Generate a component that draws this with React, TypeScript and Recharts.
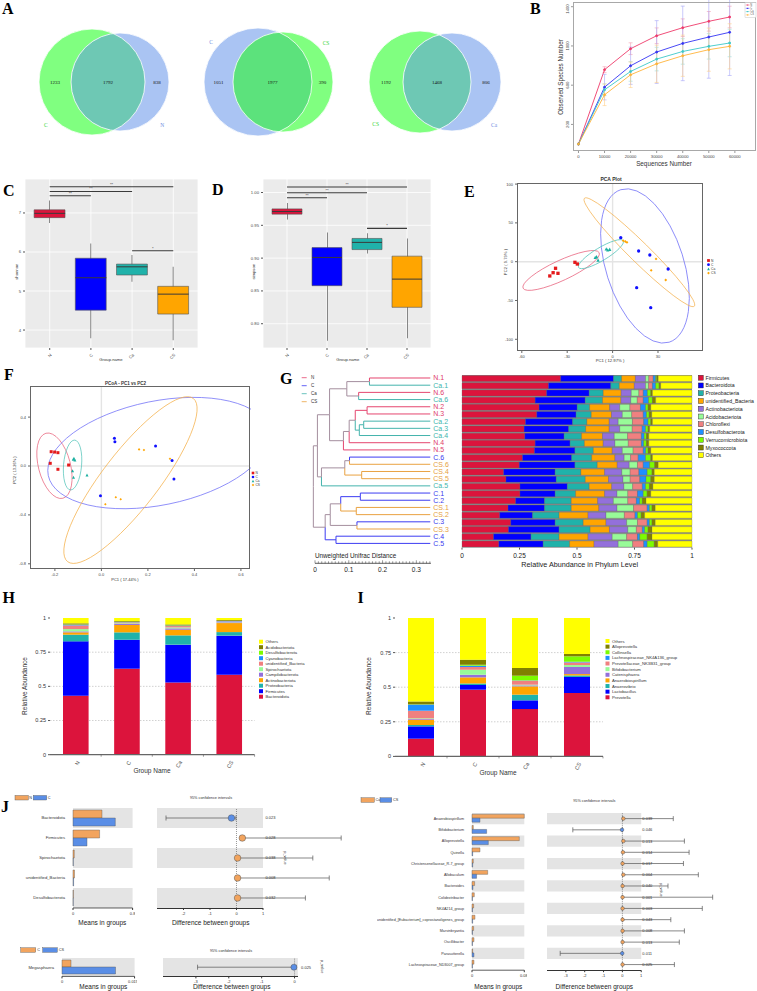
import React from 'react';
import {
  ComposedChart, ScatterChart, BarChart, Bar, Line, Scatter, XAxis, YAxis,
  CartesianGrid, ReferenceLine, ReferenceArea, ErrorBar, Cell,
} from 'recharts';

const SANS = '"Liberation Sans", Arial, Helvetica, sans-serif';
const SERIF = '"Liberation Serif", "Times New Roman", Times, serif';

/* ================= DATA ================= */
// A – Venn
const VENN_LEFT_SET = ['C', 'C', 'CS'];
const VENN_RIGHT_SET = ['N', 'CS', 'Ca'];
const VENN_LEFT_ONLY = [1233, 1051, 1192];
const VENN_SHARED = [1792, 1977, 1468];
const VENN_RIGHT_ONLY = [838, 390, 806];

// B – rarefaction
const SEQ_DEPTH = [0, 10000, 20000, 30000, 40000, 50000, 58000];
const RARE_N = [0, 758, 972, 1104, 1186, 1251, 1295];
const RARE_C = [0, 580, 798, 938, 1026, 1091, 1139];
const RARE_CA = [0, 553, 740, 866, 944, 996, 1030];
const RARE_CS = [0, 502, 706, 818, 900, 962, 996];
const RARE_SD_N = [0, 30, 60, 80, 90, 100, 110];
const RARE_SD_C = [0, 130, 190, 320, 380, 420, 440];
const RARE_SD_CA = [0, 60, 100, 120, 130, 130, 140];
const RARE_SD_CS = [0, 110, 130, 190, 210, 220, 230];
const RARE_X_TICKS = [0, 10000, 20000, 30000, 40000, 50000, 60000];
const RARE_Y_TICKS = [0, 200, 400, 600, 800, 1000, 1200, 1400];

// C, D – alpha diversity boxplots
const GROUPS = ['N', 'C', 'Ca', 'CS'];
const SHANNON_MIN = [6.74, 3.79, 5.24, 3.74];
const SHANNON_Q1 = [6.88, 4.51, 5.41, 4.41];
const SHANNON_MEDIAN = [6.99, 5.34, 5.62, 4.92];
const SHANNON_Q3 = [7.08, 5.84, 5.69, 5.12];
const SHANNON_MAX = [7.32, 6.22, 5.92, 5.62];
const SHANNON_SIG_Y = [7.67, 7.55, 7.44, 6.03];
const SIMPSON_MIN = [0.959, 0.774, 0.907, 0.778];
const SIMPSON_Q1 = [0.967, 0.858, 0.913, 0.825];
const SIMPSON_MEDIAN = [0.971, 0.901, 0.924, 0.868];
const SIMPSON_Q3 = [0.975, 0.916, 0.930, 0.903];
const SIMPSON_MAX = [0.984, 0.939, 0.938, 0.930];
const SIMPSON_SIG_Y = [1.0084, 0.9997, 0.992, 0.9454];
const SIG_FROM = [1, 1, 1, 3];
const SIG_TO = [4, 3, 2, 4];
const SIG_LABELS = ['**', '**', '**', '*'];

// E – PCA
const PCA_N_X = [-37.7, -39.3, -41.5, -36.1, -24.9, -23.3];
const PCA_N_Y = [-8.5, -14.2, -18.4, -15.0, -0.8, -3.0];
const PCA_C_X = [5.4, 17.2, 24.6, 36.7, 15.9, 25.2];
const PCA_C_Y = [30.9, 13.8, 8.6, -9.4, -33.5, -59.3];
const PCA_CA_X = [-4.2, -1.9, -3.2, -10.6, -9.6, -11.5];
const PCA_CA_Y = [16.4, 16.0, 15.1, 6.5, 2.2, 5.6];
const PCA_CS_X = [7.0, 9.5, 8.4, 28.7, 25.5, 35.1];
const PCA_CS_Y = [27.1, 25.0, 26.0, 3.5, -11.1, -23.6];
const PCA_ELL_X = [-34.0, 21.4, -7.7, 17.7];
const PCA_ELL_Y = [-11.3, -5.5, 9.7, 12.2];

// F – PCoA
const PCOA_N_X = [-0.216, -0.201, -0.187, -0.220, -0.187, -0.141];
const PCOA_N_Y = [0.117, 0.114, 0.109, 0.022, -0.027, 0.008];
const PCOA_C_X = [0.056, 0.058, 0.233, 0.304, 0.312, -0.004];
const PCOA_C_Y = [0.226, 0.199, 0.164, 0.044, -0.106, -0.243];
const PCOA_CA_X = [-0.118, -0.114, -0.121, -0.124, -0.120, -0.062];
const PCOA_CA_Y = [0.063, 0.049, 0.055, -0.038, -0.093, -0.074];
const PCOA_CS_X = [0.162, 0.183, 0.295, 0.062, 0.083, 0.017];
const PCOA_CS_Y = [0.136, 0.131, 0.060, -0.256, -0.272, -0.313];
const PCOA_ELL_X = [-0.202, 0.246, -0.124, 0.125];
const PCOA_ELL_Y = [0.002, 0.106, 0.008, -0.115];

// G – UPGMA tree + phylum bars
const SAMPLES = ['N.1', 'Ca.1', 'N.6', 'Ca.6', 'N.2', 'N.3', 'Ca.2', 'Ca.3', 'Ca.4', 'N.4', 'N.5', 'C.6', 'CS.6', 'CS.4', 'CS.5', 'Ca.5', 'C.1', 'C.2', 'CS.1', 'CS.2', 'C.3', 'CS.3', 'C.4', 'C.5'];
const MERGE_A = ['N.1', 'N.6', 'm0', 'N.2', 'Ca.2', 'm4', 'm3', 'm6', 'm7', 'm2', 'C.6', 'CS.4', 'm10', 'm12', 'm9', 'C.1', 'CS.1', 'm15', 'C.3', 'm17', 'C.4', 'm19', 'm14'];
const MERGE_B = ['Ca.1', 'Ca.6', 'm1', 'N.3', 'Ca.3', 'Ca.4', 'm5', 'N.4', 'N.5', 'm8', 'CS.6', 'CS.5', 'm11', 'Ca.5', 'm13', 'C.2', 'CS.2', 'm16', 'CS.3', 'm18', 'C.5', 'm20', 'm21'];
const MERGE_HEIGHT = [0.180, 0.212, 0.247, 0.187, 0.197, 0.210, 0.222, 0.240, 0.257, 0.298, 0.239, 0.203, 0.253, 0.322, 0.334, 0.207, 0.219, 0.265, 0.217, 0.296, 0.279, 0.311, 0.346];
const RULER_TICKS = [0, 0.01, 0.02, 0.03, 0.04, 0.05, 0.06, 0.07, 0.08, 0.09, 0.1, 0.11, 0.12, 0.13, 0.14, 0.15, 0.16, 0.17, 0.18, 0.19, 0.2, 0.21, 0.22, 0.23, 0.24, 0.25, 0.26, 0.27, 0.28, 0.29, 0.3, 0.31, 0.32, 0.33, 0.34];

const PHYLA = ['Firmicutes', 'Bacteroidota', 'Proteobacteria', 'unidentified_Bacteria', 'Actinobacteriota', 'Acidobacteriota', 'Chloroflexi', 'Desulfobacterota', 'Verrucomicrobiota', 'Myxococcota', 'Others'];
const G_FIRMICUTES = [0.429, 0.376, 0.368, 0.318, 0.335, 0.325, 0.276, 0.270, 0.273, 0.318, 0.315, 0.263, 0.249, 0.181, 0.191, 0.252, 0.252, 0.233, 0.200, 0.164, 0.212, 0.202, 0.137, 0.160];
const G_BACTEROIDOTA = [0.230, 0.271, 0.185, 0.218, 0.166, 0.171, 0.205, 0.194, 0.171, 0.152, 0.176, 0.214, 0.242, 0.224, 0.219, 0.206, 0.153, 0.126, 0.159, 0.143, 0.193, 0.220, 0.163, 0.193];
const G_PROTEOBACTERIA = [0.035, 0.037, 0.061, 0.075, 0.054, 0.066, 0.062, 0.074, 0.076, 0.062, 0.080, 0.087, 0.097, 0.112, 0.126, 0.095, 0.089, 0.116, 0.116, 0.115, 0.122, 0.135, 0.122, 0.115];
const G_UNIDENTIFIED = [0.060, 0.065, 0.078, 0.080, 0.087, 0.088, 0.097, 0.102, 0.091, 0.082, 0.082, 0.101, 0.087, 0.103, 0.101, 0.098, 0.126, 0.115, 0.120, 0.126, 0.099, 0.084, 0.126, 0.106];
const G_ACTINOBACTERIOTA = [0.044, 0.049, 0.044, 0.043, 0.044, 0.047, 0.039, 0.046, 0.051, 0.051, 0.044, 0.040, 0.052, 0.075, 0.063, 0.053, 0.054, 0.068, 0.079, 0.078, 0.090, 0.080, 0.105, 0.105];
const G_ACIDOBACTERIOTA = [0.014, 0.013, 0.033, 0.028, 0.044, 0.041, 0.062, 0.054, 0.058, 0.058, 0.047, 0.028, 0.036, 0.036, 0.031, 0.038, 0.047, 0.063, 0.072, 0.080, 0.047, 0.037, 0.063, 0.063];
const G_CHLOROFLEXI = [0.019, 0.017, 0.019, 0.026, 0.046, 0.050, 0.049, 0.043, 0.060, 0.057, 0.044, 0.033, 0.025, 0.038, 0.042, 0.042, 0.042, 0.037, 0.059, 0.046, 0.042, 0.026, 0.047, 0.048];
const G_DESULFOBACTEROTA = [0.011, 0.014, 0.018, 0.023, 0.022, 0.014, 0.019, 0.015, 0.012, 0.010, 0.011, 0.032, 0.028, 0.036, 0.027, 0.014, 0.025, 0.015, 0.010, 0.011, 0.010, 0.010, 0.010, 0.015];
const G_VERRUCOMICROBIOTA = [0.005, 0.015, 0.015, 0.017, 0.011, 0.012, 0.012, 0.011, 0.010, 0.012, 0.010, 0.023, 0.022, 0.021, 0.021, 0.017, 0.017, 0.011, 0.011, 0.016, 0.011, 0.015, 0.032, 0.031];
const G_MYXOCOCCOTA = [0.006, 0.007, 0.007, 0.014, 0.012, 0.011, 0.007, 0.007, 0.010, 0.010, 0.012, 0.007, 0.015, 0.010, 0.015, 0.015, 0.016, 0.016, 0.014, 0.015, 0.014, 0.017, 0.021, 0.015];
const G_VALUES = [G_FIRMICUTES, G_BACTEROIDOTA, G_PROTEOBACTERIA, G_UNIDENTIFIED, G_ACTINOBACTERIOTA, G_ACIDOBACTERIOTA, G_CHLOROFLEXI, G_DESULFOBACTEROTA, G_VERRUCOMICROBIOTA, G_MYXOCOCCOTA];

// H – phylum mean abundance
const H_TAXA = ['Bacteroidota', 'Firmicutes', 'Proteobacteria', 'Actinobacteriota', 'Campilobacterota', 'Spirochaetota', 'unidentified_Bacteria', 'Cyanobacteria', 'Desulfobacterota', 'Acidobacteriota', 'Others'];
const H_BACTEROIDOTA = [0.432, 0.629, 0.529, 0.585];
const H_FIRMICUTES = [0.397, 0.212, 0.276, 0.286];
const H_PROTEOBACTERIA = [0.049, 0.054, 0.068, 0.026];
const H_ACTINOBACTERIOTA = [0.017, 0.054, 0.041, 0.066];
const H_CAMPILOBACTEROTA = [0.007, 0.007, 0.010, 0.005];
const H_SPIROCHAETOTA = [0.017, 0.005, 0.007, 0.002];
const H_UNIDENTIFIED = [0.027, 0.007, 0.010, 0.005];
const H_CYANOBACTERIA = [0.005, 0.002, 0.003, 0.003];
const H_DESULFOBACTEROTA = [0.002, 0.003, 0.002, 0.001];
const H_ACIDOBACTERIOTA = [0.008, 0.005, 0.007, 0.006];
const H_VALUES = [H_BACTEROIDOTA, H_FIRMICUTES, H_PROTEOBACTERIA, H_ACTINOBACTERIOTA, H_CAMPILOBACTEROTA, H_SPIROCHAETOTA, H_UNIDENTIFIED, H_CYANOBACTERIA, H_DESULFOBACTEROTA, H_ACIDOBACTERIOTA];

// I – genus mean abundance
const I_TAXA = ['Prevotella', 'Lactobacillus', 'Anaerovibrio', 'Anaerobiospirillum', 'Catenisphaera', 'Bifidobacterium', 'Prevotellaceae_NK3B31_group', 'Lachnospiraceae_NK4A136_group', 'Collinsella', 'Alloprevotella', 'Others'];
const I_PREVOTELLA = [0.128, 0.482, 0.342, 0.458];
const I_LACTOBACILLUS = [0.089, 0.034, 0.063, 0.116];
const I_ANAEROVIBRIO = [0.010, 0.011, 0.041, 0.011];
const I_ANAEROBIOSPIRILLUM = [0.038, 0.044, 0.060, 0.010];
const I_CATENISPHAERA = [0.005, 0.019, 0.007, 0.051];
const I_BIFIDOBACTERIUM = [0.005, 0.036, 0.005, 0.014];
const I_PREVOTELLACEAE = [0.055, 0.020, 0.029, 0.019];
const I_LACHNOSPIRACEAE = [0.044, 0.009, 0.002, 0.005];
const I_COLLINSELLA = [0.002, 0.007, 0.034, 0.039];
const I_ALLOPREVOTELLA = [0.021, 0.037, 0.056, 0.017];
const I_VALUES = [I_PREVOTELLA, I_LACTOBACILLUS, I_ANAEROVIBRIO, I_ANAEROBIOSPIRILLUM, I_CATENISPHAERA, I_BIFIDOBACTERIUM, I_PREVOTELLACEAE, I_LACHNOSPIRACEAE, I_COLLINSELLA, I_ALLOPREVOTELLA];

// J – STAMP
const JL_NAMES = ['Bacteroidota', 'Firmicutes', 'Spirochaetota', 'unidentified_Bacteria', 'Desulfobacterota'];
const JL_N = [0.389, 0.357, 0.017, 0.020, 0.005];
const JL_C = [0.568, 0.188, 0.004, 0.008, 0.003];
const JL_DIFF = [-0.19, 0.22, 0.04, 0.04, 0.04];
const JL_LOW = [-2.66, 0.15, 0.02, 0.02, 0.02];
const JL_HIGH = [-0.02, 3.95, 2.88, 3.5, 2.6];
const JL_P = ['0.023', '0.028', '0.038', '0.008', '0.032'];

const JB_NAMES = ['Megasphaera'];
const JB_C = [0.00186];
const JB_CS = [0.01106];
const JB_DIFF = [-0.02];
const JB_LOW = [-2.95];
const JB_HIGH = [0.05];
const JB_P = ['0.025'];

const JR_NAMES = ['Anaerobiospirillum', 'Bifidobacterium', 'Alloprevotella', 'Quinella', 'Christensenellaceae_R-7_group', 'Allobaculum', 'Bacteroides', 'Colidextribacter', 'NK4A214_group', 'unidentified_[Eubacterium]_coprostanoligenes_group', 'Marvinbryantia', 'Oscillibacter', 'Parasutterella', 'Lachnospiraceae_ND3007_group'];
const JR_CA = [0.080, 0.002, 0.0724, 0.0122, 0.002, 0.024, 0.004, 0.0035, 0.0025, 0.0045, 0.0025, 0.003, 0.001, 0.003];
const JR_CS = [0.0122, 0.0224, 0.025, 0.001, 0.001, 0.007, 0.0015, 0.0007, 0.0007, 0.001, 0.0007, 0.0007, 0.003, 0.0007];
const JR_DIFF = [0.05, -0.02, 0.05, 0.03, 0.01, 0.05, 0.01, 0.01, 0.01, 0.01, 0.01, 0.01, -0.01, 0.01];
const JR_LOW = [0.01, -2.63, 0.01, 0.01, 0.0, 0.01, 0.0, 0.0, 0.0, 0.0, 0.0, 0.0, -3.3, 0.0];
const JR_HIGH = [2.7, 0.0, 3.29, 3.54, 3.24, 4.03, 2.42, 4.79, 4.24, 2.57, 3.29, 3.02, 0.0, 2.76];
const JR_P = ['0.039', '0.046', '0.013', '0.014', '0.017', '0.004', '0.040', '0.001', '0.003', '0.043', '0.008', '0.013', '0.011', '0.025'];

/* ================= STYLE ================= */
const PALETTE = ['#DC143C', '#0000FF', '#20B2AA', '#FFA500', '#9370DB', '#98FB98', '#F08080', '#1E90FF', '#7CFC00', '#808000', '#FFFF00'];
const BOX_COLORS = ['#DC143C', '#0000FF', '#20B2AA', '#FFA500'];
const RARE_COLORS = ['#EE3A6A', '#3434F4', '#3CC8C8', '#FFB33A'];
const RARE_ERR_COLORS = ['#F29AB0', '#A6A6F8', '#9ADEDE', '#FFD08A'];
const ORD_COLORS = ['#E41A1C', '#1010FF', '#1AAFA0', '#FFA500'];
const ORD_SHAPES = ['square', 'circle', 'triangle', 'diamond'];
const ORD_ELL_COLORS = ['#E8627C', '#6B6BF7', '#4FC3B8', '#F4B04A'];
const PCA_ELL_A = [42, 80, 26, 77];
const PCA_ELL_B = [10, 39, 6.5, 10];
const PCA_ELL_ANG = [-25, 72.4, -31, 44.5];
const PCOA_ELL_A = [33.6, 112.6, 25, 103];
const PCOA_ELL_B = [16, 52, 9, 28];
const PCOA_ELL_ANG = [75.4, -11.5, 95, -52.4];
const TREE_COL: any = { N: '#E5456E', C: '#3B3BF2', Ca: '#43B3AC', CS: '#E9A240', mix: '#A48E9E' };
const LABEL_COL: any = { N: '#E0406A', C: '#3A3AEE', Ca: '#40B5AD', CS: '#E6A03C' };
const J_ORANGE = '#F2A45E';
const J_BLUE = '#5A8EE6';
const V_GREEN = '#80FF80';
const V_BLUE = '#AAC4F3';
const V_TEAL = '#6EC8B4';
const V_GREEN2 = '#5CE27C';
const VENN_CENTER_X = [106, 270.5, 436];
const VENN_LAYOUT = [
  { off: 14, rl: 53, rr: 49, lc: V_GREEN, rc: V_BLUE, ov: V_TEAL, top: false },
  { off: 12.5, rl: 54, rr: 50, lc: V_BLUE, rc: V_GREEN, ov: V_GREEN2, top: true },
  { off: 16, rl: 51, rr: 49, lc: V_GREEN, rc: V_BLUE, ov: V_TEAL, top: false },
];
const VENN_TEXT: any = { [V_GREEN]: '#35D435', [V_BLUE]: '#6F8FE2' };

/* ================= HELPERS ================= */
type Rect = { x0: number; y0: number; x1: number; y1: number };
function frame(r: Rect, l: number, t: number, rr: number, b: number, yW = 0, xH = 0) {
  return {
    style: { position: 'absolute' as const, left: r.x0 - l, top: r.y0 - t },
    width: r.x1 - r.x0 + l + rr,
    height: r.y1 - r.y0 + t + b,
    margin: { left: l - yW, top: t, right: rr, bottom: b - xH },
  };
}
function Border({ r, color = '#777', w = 0.8 }: any) {
  return <div style={{ position: 'absolute', left: r.x0, top: r.y0, width: r.x1 - r.x0, height: r.y1 - r.y0, border: `${w}px solid ${color}`, boxSizing: 'border-box' }} />;
}
function HLine({ x0, x1, y, color = '#333', w = 0.8 }: any) {
  return <div style={{ position: 'absolute', left: x0, top: y - w / 2, width: x1 - x0, height: w, background: color }} />;
}
function T({ x, y, children, size = 5, color = '#222', anchor = 'middle', rot = 0, weight = 400, family = SANS, base = 'central' }: any) {
  return (
    <text x={x} y={y} fontSize={size} fill={color} textAnchor={anchor} dominantBaseline={base}
      fontWeight={weight} fontFamily={family} transform={rot ? `rotate(${rot} ${x} ${y})` : undefined}>{children}</text>
  );
}
function Sym({ kind, x, y, s, fill }: any) {
  const h = s / 2;
  if (kind === 'square') return <rect x={x - h} y={y - h} width={s} height={s} fill={fill} />;
  if (kind === 'circle') return <circle cx={x} cy={y} r={h} fill={fill} />;
  if (kind === 'triangle') return <polygon points={`${x},${y - h} ${x + h},${y + h} ${x - h},${y + h}`} fill={fill} />;
  return <polygon points={`${x},${y - h} ${x + h},${y} ${x},${y + h} ${x - h},${y}`} fill={fill} />;
}

/* ================= A ================= */
function VennShape(props: any) {
  const { cx, cy, payload } = props;
  const L = VENN_LAYOUT[payload.i];
  const lx = cx - L.off;
  const rx = cx + L.off;
  const id = `venn-clip-${payload.i}`;
  const xa = (lx - L.rl + rx - L.rr) / 2;
  const xs = (rx - L.rr + lx + L.rl) / 2;
  const xb = (lx + L.rl + rx + L.rr) / 2;
  const s = L.top ? -1 : 1;
  const k = L.top ? 0.74 : 0.82;
  return (
    <g>
      <defs><clipPath id={id}><circle cx={rx} cy={cy} r={L.rr} /></clipPath></defs>
      <circle cx={lx} cy={cy} r={L.rl} fill={L.lc} />
      <circle cx={rx} cy={cy} r={L.rr} fill={L.rc} />
      <circle cx={lx} cy={cy} r={L.rl} fill={L.ov} clipPath={`url(#${id})`} />
      <circle cx={lx} cy={cy} r={L.rl} fill="none" stroke="#fff" strokeWidth={0.8} />
      <circle cx={rx} cy={cy} r={L.rr} fill="none" stroke="#fff" strokeWidth={0.8} />
      <text x={xa} y={cy} fontSize={5} fontFamily={SERIF} textAnchor="middle" dominantBaseline="central" fill="#111">{payload.a}</text>
      <text x={xs} y={cy} fontSize={5} fontFamily={SERIF} textAnchor="middle" dominantBaseline="central" fill="#111">{payload.s}</text>
      <text x={xb} y={cy} fontSize={5} fontFamily={SERIF} textAnchor="middle" dominantBaseline="central" fill="#111">{payload.b}</text>
      <text x={lx - 0.87 * L.rl} y={cy + s * k * L.rl} fontSize={5.5} fontFamily={SERIF} textAnchor="middle" dominantBaseline="central" fill={VENN_TEXT[L.lc]}>{payload.ln}</text>
      <text x={rx + 0.86 * L.rr} y={cy + s * (k + 0.05) * L.rr} fontSize={5.5} fontFamily={SERIF} textAnchor="middle" dominantBaseline="central" fill={VENN_TEXT[L.rc]}>{payload.rn}</text>
    </g>
  );
}
function PanelA() {
  const r = { x0: 0, y0: 20, x1: 530, y1: 145 };
  const f = frame(r, 0, 0, 0, 0);
  const data = VENN_SHARED.map((s, i) => ({ x: VENN_CENTER_X[i], y: 82, i, a: VENN_LEFT_ONLY[i], s, b: VENN_RIGHT_ONLY[i], ln: VENN_LEFT_SET[i], rn: VENN_RIGHT_SET[i] }));
  return (
    <div style={f.style}>
      <ScatterChart width={f.width} height={f.height} margin={f.margin}>
        <XAxis type="number" dataKey="x" domain={[r.x0, r.x1]} hide />
        <YAxis type="number" dataKey="y" domain={[r.y0, r.y1]} reversed hide />
        <Scatter data={data} shape={VennShape} isAnimationActive={false} />
      </ScatterChart>
    </div>
  );
}

/* ================= B ================= */
const VertTick = (p: any) => (
  <text x={p.x} y={p.y} transform={`rotate(-90 ${p.x} ${p.y})`} textAnchor="middle" fontSize={4.2} fill="#444" fontFamily={SANS}>{p.payload.value}</text>
);
function PanelB() {
  const r = { x0: 572.5, y0: 2, x1: 756, y1: 151 };
  const f = frame(r, 14, 2, 1, 10, 14, 10);
  const data = SEQ_DEPTH.map((s, i) => ({
    seq: s, N: RARE_N[i], C: RARE_C[i], Ca: RARE_CA[i], CS: RARE_CS[i],
    eN: RARE_SD_N[i], eC: RARE_SD_C[i], eCa: RARE_SD_CA[i], eCS: RARE_SD_CS[i],
  }));
  const keys = ['N', 'C', 'Ca', 'CS'];
  return (
    <>
      <div style={f.style}>
        <ComposedChart width={f.width} height={f.height} margin={f.margin} data={data}>
          <XAxis dataKey="seq" type="number" domain={[-2100, 68300]} ticks={RARE_X_TICKS} height={10} tickSize={2}
            tick={{ fontSize: 4.2, fill: '#444', fontFamily: SANS }} axisLine={false} tickLine={{ stroke: '#999' }} />
          <YAxis type="number" domain={[-71, 1448]} ticks={RARE_Y_TICKS} width={14} tickSize={2} tick={VertTick}
            axisLine={false} tickLine={{ stroke: '#999' }} allowDataOverflow />
          {keys.map((k, i) => (
            <Line key={k} dataKey={k} type="linear" stroke={RARE_COLORS[i]} strokeWidth={0.9}
              dot={{ r: 1, fill: RARE_COLORS[i], stroke: RARE_COLORS[i] }} isAnimationActive={false}>
              <ErrorBar dataKey={'e' + k} direction="y" width={2} stroke={RARE_ERR_COLORS[i]} strokeWidth={0.6} />
            </Line>
          ))}
        </ComposedChart>
      </div>
      <Border r={r} color="#A8A8A8" w={0.8} />
    </>
  );
}

/* ================= C, D ================= */
const RotTick45 = (p: any) => (
  <text x={p.x} y={p.y + 1} textAnchor="end" dominantBaseline="hanging" fontSize={4.2} fill="#4D4D4D" fontFamily={SANS}
    transform={`rotate(-45 ${p.x} ${p.y + 1})`}>{p.payload.value}</text>
);
const SigText = (p: any) => (
  <text x={p.cx} y={p.cy - 1} textAnchor="middle" fontSize={4} fill="#333" fontFamily={SANS}>{p.payload.lab}</text>
);
function BoxPanel({ rect, mins, q1, med, q3, maxs, domain, ticks, fmt, sigY }: any) {
  const f = frame(rect, 16, 12, 2, 16, 16, 16);
  const W = rect.x1 - rect.x0;
  const band = W / 4.2;
  const padPx = band * 0.1;
  const boxW = band * 0.75;
  const data = GROUPS.map((g, i) => ({ name: g, box: [q1[i], q3[i]], whisk: [mins[i], maxs[i]] }));
  const medData = GROUPS.map((g, i) => ({ pos: i + 1, y: med[i] }));
  const sigLab = SIG_FROM.map((a, k) => ({ pos: (a + SIG_TO[k]) / 2, y: sigY[k], lab: SIG_LABELS[k] }));
  const MedShape = (p: any) => (
    <line x1={p.cx - boxW / 2} x2={p.cx + boxW / 2} y1={p.cy} y2={p.cy} stroke="#3A3A3A" strokeWidth={1} />
  );
  return (
    <div style={f.style}>
      <ComposedChart width={f.width} height={f.height} margin={f.margin} data={data}>
        <CartesianGrid xAxisId="cat" fill="#EBEBEB" stroke="#FFFFFF" strokeWidth={0.8} />
        <XAxis xAxisId="cat" dataKey="name" type="category" padding={{ left: padPx, right: padPx }} height={16}
          interval={0} tick={RotTick45} tickSize={2} tickLine={{ stroke: '#555' }} axisLine={false} />
        <XAxis xAxisId="wh" dataKey="name" type="category" padding={{ left: padPx, right: padPx }} hide />
        <XAxis xAxisId="pos" dataKey="pos" type="number" domain={[0.4, 4.6]} hide />
        <YAxis dataKey="y" type="number" domain={domain} ticks={ticks} tickFormatter={fmt} width={16}
          tick={{ fontSize: 4.2, fill: '#4D4D4D', fontFamily: SANS }} tickSize={2} tickLine={{ stroke: '#555' }} axisLine={false} />
        <Bar xAxisId="wh" dataKey="whisk" barSize={0.9} fill="#7A7A7A" isAnimationActive={false} />
        <Bar xAxisId="cat" dataKey="box" barSize={boxW} stroke="#555" strokeWidth={0.6} isAnimationActive={false}>
          {GROUPS.map((g, i) => <Cell key={g} fill={BOX_COLORS[i]} />)}
        </Bar>
        <Scatter xAxisId="pos" data={medData} shape={MedShape} isAnimationActive={false} />
        {SIG_FROM.map((a, k) => (
          <ReferenceLine key={k} xAxisId="pos" segment={[{ x: a, y: sigY[k] }, { x: SIG_TO[k], y: sigY[k] }]}
            stroke="#3A3A3A" strokeWidth={1.1} ifOverflow="visible" />
        ))}
        <Scatter xAxisId="pos" data={sigLab} shape={SigText} isAnimationActive={false} />
      </ComposedChart>
    </div>
  );
}

/* ================= E, F ================= */
const EllShape = (p: any) => (
  <ellipse cx={p.cx} cy={p.cy} rx={p.payload.a} ry={p.payload.b} fill="none" stroke={p.payload.col} strokeWidth={0.7}
    transform={`rotate(${p.payload.ang} ${p.cx} ${p.cy})`} />
);
function OrdPanel({ rect, xd, yd, xt, yt, fx, fy, xs, ys, ex, ey, ea, eb, eang, size }: any) {
  const f = frame(rect, 14, 1, 1, 8, 14, 8);
  const ell = ex.map((x: number, i: number) => ({ x, y: ey[i], a: ea[i], b: eb[i], ang: eang[i], col: ORD_ELL_COLORS[i] }));
  return (
    <>
      <div style={f.style}>
        <ScatterChart width={f.width} height={f.height} margin={f.margin}>
          <XAxis type="number" dataKey="x" domain={xd} ticks={xt} tickFormatter={fx} height={8} tickSize={2}
            tick={{ fontSize: 4, fill: '#444', fontFamily: SANS }} axisLine={false} tickLine={{ stroke: '#666' }} />
          <YAxis type="number" dataKey="y" domain={yd} ticks={yt} tickFormatter={fy} width={14} tickSize={2}
            tick={{ fontSize: 4, fill: '#444', fontFamily: SANS }} axisLine={false} tickLine={{ stroke: '#666' }} />
          <ReferenceLine x={0} stroke="#E4E4E4" strokeWidth={1.4} />
          <ReferenceLine y={0} stroke="#E4E4E4" strokeWidth={1.4} />
          <Scatter data={ell} shape={EllShape} isAnimationActive={false} />
          {xs.map((arr: number[], g: number) => {
            const PtShape = (p: any) => (
              <Sym kind={ORD_SHAPES[g]} x={p.cx} y={p.cy} s={g === 3 ? size * 0.85 : size} fill={ORD_COLORS[g]} />
            );
            return (
              <Scatter key={g} data={arr.map((x, i) => ({ x, y: ys[g][i] }))} shape={PtShape} isAnimationActive={false} />
            );
          })}
        </ScatterChart>
      </div>
      <Border r={rect} color="#666" w={0.8} />
    </>
  );
}

/* ================= G ================= */
function buildTree() {
  const info: any = {};
  SAMPLES.forEach((n, i) => { info[n] = { y: i, h: 0, g: n.split('.')[0] }; });
  const segs: any[] = [];
  MERGE_A.forEach((a, k) => {
    const A = info[a];
    const B = info[MERGE_B[k]];
    const h = MERGE_HEIGHT[k];
    const ym = (A.y + B.y) / 2;
    const ca = TREE_COL[A.g];
    const cb = TREE_COL[B.g];
    segs.push({ x1: h, y1: A.y, x2: A.h, y2: A.y, c: ca });
    segs.push({ x1: h, y1: B.y, x2: B.h, y2: B.y, c: cb });
    segs.push({ x1: h, y1: A.y, x2: h, y2: ym, c: ca });
    segs.push({ x1: h, y1: ym, x2: h, y2: B.y, c: cb });
    info['m' + k] = { y: ym, h, g: A.g === B.g ? A.g : 'mix' };
  });
  return segs;
}
const LeafLabel = (p: any) => (
  <text x={p.cx + 3} y={p.cy} fontSize={7} fill={LABEL_COL[p.payload.g]} fontFamily={SANS} dominantBaseline="central">{p.payload.name}</text>
);
const RulerTick = (p: any) => {
  const v = p.payload.value;
  const major = Math.abs(v * 10 - Math.round(v * 10)) < 1e-6;
  return (
    <g>
      <line x1={p.x} x2={p.x} y1={p.y} y2={p.y - (major ? 3 : 2)} stroke="#333" strokeWidth={0.5} />
      {major ? <text x={p.x} y={p.y + 6.5} textAnchor="middle" dominantBaseline="central" fontSize={6.5} fill="#222" fontFamily={SANS}>{v === 0 ? '0' : v.toFixed(1)}</text> : null}
    </g>
  );
};
function PanelG() {
  const segs = buildTree();
  const tr = { x0: 311.7, y0: 378.3, x1: 430, y1: 543.7 };
  const tf = frame(tr, 2, 5, 32, 5);
  const leaves = SAMPLES.map((n, i) => ({ d: 0, i, name: n, g: n.split('.')[0] }));
  const rr = { x0: 315, y0: 558, x1: 430.9, y1: 563.3 };
  const rf = frame(rr, 3, 0, 4, 12, 0, 12);
  const br = { x0: 462.3, y0: 374.7, x1: 692.3, y1: 547.3 };
  const bf = frame(br, 4, 1, 4, 14, 0, 14);
  const rows = SAMPLES.map((s, i) => {
    const row: any = { name: s };
    let sum = 0;
    G_VALUES.forEach((arr, k) => { row[PHYLA[k]] = arr[i]; sum += arr[i]; });
    row.Others = Math.max(0, 1 - sum);
    return row;
  });
  return (
    <>
      <div style={tf.style}>
        <ScatterChart width={tf.width} height={tf.height} margin={tf.margin}>
          <XAxis type="number" dataKey="d" domain={[0, 0.35]} reversed hide />
          <YAxis type="number" dataKey="i" domain={[0, 23]} reversed hide />
          {segs.map((s, k) => (
            <ReferenceLine key={k} segment={[{ x: s.x1, y: s.y1 }, { x: s.x2, y: s.y2 }]} stroke={s.c} strokeWidth={1} ifOverflow="visible" />
          ))}
          <Scatter data={leaves} shape={LeafLabel} isAnimationActive={false} />
        </ScatterChart>
      </div>
      <div style={rf.style}>
        <ScatterChart width={rf.width} height={rf.height} margin={rf.margin}>
          <XAxis type="number" dataKey="d" domain={[0, 0.343]} ticks={RULER_TICKS} interval={0} tick={RulerTick}
            tickLine={false} tickSize={0} tickMargin={0} height={12} axisLine={{ stroke: '#333', strokeWidth: 0.8 }} />
          <YAxis type="number" dataKey="i" domain={[0, 1]} hide />
          <Scatter data={[{ d: 0, i: 0 }]} shape={() => <g />} isAnimationActive={false} />
        </ScatterChart>
      </div>
      <div style={bf.style}>
        <BarChart layout="vertical" data={rows} width={bf.width} height={bf.height} margin={bf.margin} barCategoryGap={0.6}>
          <CartesianGrid fill="#8E8E8E" horizontal={false} vertical={false} />
          <XAxis type="number" domain={[0, 1]} ticks={[0, 0.25, 0.5, 0.75, 1]} height={14} tickSize={2} tickMargin={4}
            tick={{ fontSize: 6.5, fill: '#222', fontFamily: SANS }} axisLine={false} tickLine={{ stroke: '#555' }} />
          <YAxis type="category" dataKey="name" hide />
          {PHYLA.map((p, k) => (
            <Bar key={p} dataKey={p} stackId="s" fill={PALETTE[k]} stroke="#666" strokeWidth={0.3} isAnimationActive={false} />
          ))}
        </BarChart>
      </div>
    </>
  );
}

/* ================= H, I ================= */
function StackPanel({ rect, taxa, values, barSize }: any) {
  const f = frame(rect, 22, 4, 4, 18, 22, 18);
  const band = (rect.x1 - rect.x0) / GROUPS.length;
  const data = GROUPS.map((g, gi) => {
    const row: any = { name: g };
    let s = 0;
    values.forEach((arr: number[], k: number) => { row[taxa[k]] = arr[gi]; s += arr[gi]; });
    row.Others = Math.max(0, 1 - s);
    return row;
  });
  const CatTick = (p: any) => (
    <g>
      <line x1={p.x + band / 2} x2={p.x + band / 2} y1={p.y - 4} y2={p.y - 2} stroke="#555" strokeWidth={0.6} />
      <text x={p.x + 1} y={p.y + 1.5} textAnchor="end" dominantBaseline="hanging" fontSize={5.5} fill="#555" fontFamily={SANS}
        transform={`rotate(-60 ${p.x + 1} ${p.y + 1.5})`}>{p.payload.value}</text>
    </g>
  );
  return (
    <div style={f.style}>
      <BarChart data={data} width={f.width} height={f.height} margin={f.margin}>
        <CartesianGrid horizontalValues={[0.25, 0.5, 0.75]} vertical={false} stroke="#B0B0B0" strokeDasharray="1.5 1.5" strokeWidth={0.6} />
        <XAxis dataKey="name" type="category" height={18} interval={0} tick={CatTick} tickSize={2}
          axisLine={{ stroke: '#666', strokeWidth: 1.2 }} tickLine={false} />
        <YAxis type="number" domain={[0, 1]} ticks={[0, 0.25, 0.5, 0.75, 1]} width={22} tickSize={2}
          tick={{ fontSize: 5.5, fill: '#333', fontFamily: SANS }} axisLine={false} tickLine={{ stroke: '#555' }} />
        {taxa.map((k: string, i: number) => (
          <Bar key={k} dataKey={k} stackId="s" fill={PALETTE[i]} barSize={barSize} isAnimationActive={false} />
        ))}
      </BarChart>
    </div>
  );
}

/* ================= J ================= */
function JMeans({ rect, names, g1, g2, xmax, maxLabel, yW, gap, labelSize }: any) {
  const f = frame(rect, yW, 1, 3, 9, yW, 9);
  const data = names.map((n: string, i: number) => ({ name: n, g1: g1[i], g2: g2[i] }));
  return (
    <div style={f.style}>
      <BarChart layout="vertical" data={data} width={f.width} height={f.height} margin={f.margin} barCategoryGap={gap} barGap={0}>
        {names.map((n: string, i: number) => (i % 2 === 0 ? (
          <ReferenceArea key={n} y1={n} y2={n} fill="#E4E4E4" fillOpacity={1} stroke="none" ifOverflow="visible" />
        ) : null))}
        <XAxis type="number" domain={[0, xmax]} ticks={[0, xmax]} tickFormatter={(v: number) => (v === 0 ? '0' : maxLabel)}
          height={9} tickSize={2} tick={{ fontSize: 4, fill: '#333', fontFamily: SANS }}
          axisLine={{ stroke: '#333', strokeWidth: 0.8 }} tickLine={{ stroke: '#333' }} />
        <YAxis type="category" dataKey="name" width={yW} interval={0} tickMargin={2} allowDuplicatedCategory={false}
          tick={{ fontSize: labelSize, fill: '#333', fontFamily: SANS }} tickLine={false} axisLine={false} />
        <Bar dataKey="g1" fill={J_ORANGE} stroke="#555" strokeWidth={0.4} isAnimationActive={false} />
        <Bar dataKey="g2" fill={J_BLUE} stroke="#555" strokeWidth={0.4} isAnimationActive={false} />
      </BarChart>
    </div>
  );
}
function JDiff({ rect, names, diff, lo, hi, pv, domain, ticks, band, r, pX }: any) {
  const f = frame(rect, 1, 1, 2, 9, 0, 9);
  const n = names.length;
  const data = names.map((nm: string, i: number) => ({
    name: nm, row: i, diff: diff[i], err: [diff[i] - lo[i], hi[i] - diff[i]], col: diff[i] < 0 ? J_BLUE : J_ORANGE,
  }));
  const pData = names.map((nm: string, i: number) => ({ name: nm, row: i, diff: pX, p: pv[i] }));
  const Dot = (p: any) => <circle cx={p.cx} cy={p.cy} r={r} fill={p.payload.col} stroke="#555" strokeWidth={0.5} />;
  const PText = (p: any) => (
    <text x={p.cx} y={p.cy} fontSize={4} fill="#333" fontFamily={SANS} dominantBaseline="central">{p.payload.p}</text>
  );
  return (
    <div style={f.style}>
      <ScatterChart width={f.width} height={f.height} margin={f.margin}>
        {names.map((nm: string, i: number) => (i % 2 === 0 ? (
          <ReferenceArea key={nm} x1={band[0]} x2={band[1]} y1={i - 0.5} y2={i + 0.5} fill="#E4E4E4" fillOpacity={1} stroke="none" ifOverflow="visible" />
        ) : null))}
        <XAxis type="number" dataKey="diff" domain={domain} ticks={ticks} height={9} tickSize={2}
          tick={{ fontSize: 4, fill: '#333', fontFamily: SANS }} axisLine={false} tickLine={{ stroke: '#333' }} />
        <YAxis type="number" dataKey="row" domain={[-0.5, n - 0.5]} reversed hide />
        <ReferenceLine x={0} stroke="#555" strokeDasharray="1 1" strokeWidth={0.6} />
        <Scatter data={data} shape={Dot} isAnimationActive={false}>
          <ErrorBar dataKey="err" direction="x" width={2.5} stroke="#555" strokeWidth={0.7} />
        </Scatter>
        <Scatter data={pData} shape={PText} isAnimationActive={false} />
      </ScatterChart>
    </div>
  );
}

/* ================= OVERLAY TEXT ================= */
function Overlay() {
  const letters = [
    ['A', 2, 13.5], ['B', 530, 13.5], ['C', 3, 196], ['D', 212, 195], ['E', 464, 196.5],
    ['F', 4, 380], ['G', 280, 384], ['H', 2.5, 602.7], ['I', 357.5, 602.7], ['J', 1, 811.7],
  ];
  const grp = ['N', 'C', 'Ca', 'CS'];
  const hLegend = [...H_TAXA].reverse();
  const iLegend = [...I_TAXA].reverse();
  const pal = [...PALETTE].reverse();
  return (
    <svg width={757} height={991} style={{ position: 'absolute', left: 0, top: 0, pointerEvents: 'none' }}>
      {letters.map(([l, x, y]: any) => (
        <T key={l} x={x} y={y} size={16} weight={700} family={SERIF} anchor="start" base="alphabetic" color="#000">{l}</T>
      ))}
      {/* B */}
      <T x={560} y={77} size={6.3} rot={-90} color="#333">Observed Species Number</T>
      <T x={664} y={163} size={6.3} color="#333">Sequences Number</T>
      <rect x={745} y={2.5} width={11} height={15} fill="#fff" stroke="#BBB" strokeWidth={0.4} />
      {grp.map((g, i) => (
        <g key={g}>
          <line x1={745.8} x2={749.4} y1={5 + i * 3.3} y2={5 + i * 3.3} stroke={RARE_COLORS[i]} strokeWidth={0.6} />
          <circle cx={747.6} cy={5 + i * 3.3} r={0.6} fill={RARE_COLORS[i]} />
          <T x={750.3} y={5 + i * 3.3} size={2.6} anchor="start" color="#555">{g}</T>
        </g>
      ))}
      {/* C, D */}
      <T x={17} y={271.7} size={4.2} rot={-90} color="#333">shannon</T>
      <T x={111} y={359.3} size={4.2} color="#333">Group.name</T>
      <T x={253.6} y={271.7} size={4.2} rot={-90} color="#333">simpson</T>
      <T x={347.8} y={359.3} size={4.2} color="#333">Group.name</T>
      {/* E */}
      <T x={611} y={179} size={5} weight={700} color="#333">PCA Plot</T>
      <T x={610} y={360.7} size={4.2} color="#333">PC1 ( 12.97% )</T>
      <T x={505} y={262} size={4.2} rot={-90} color="#333">PC2 ( 9.79% )</T>
      {grp.map((g, i) => (
        <g key={g}>
          <Sym kind={ORD_SHAPES[i]} x={708.5} y={260.5 + i * 4.2} s={2.8} fill={ORD_COLORS[i]} />
          <T x={711} y={260.5 + i * 4.2} size={3.3} anchor="start" color="#333">{g}</T>
        </g>
      ))}
      {/* F */}
      <T x={125.6} y={383} size={4.5} weight={700} color="#333">PCoA - PC1 vs PC2</T>
      <T x={125} y={579} size={4} color="#333">PC1 ( 17.44% )</T>
      <T x={14} y={470} size={4} rot={-90} color="#333">PC2 ( 13.26% )</T>
      {grp.map((g, i) => (
        <g key={g}>
          <Sym kind={ORD_SHAPES[i]} x={253} y={473 + i * 4} s={2.6} fill={ORD_COLORS[i]} />
          <T x={255.5} y={473 + i * 4} size={3.2} anchor="start" color="#333">{g}</T>
        </g>
      ))}
      {/* G */}
      {grp.map((g, i) => (
        <g key={g}>
          <line x1={301.7} x2={306.7} y1={377.7 + i * 8} y2={377.7 + i * 8} stroke={TREE_COL[g]} strokeWidth={0.8} />
          <T x={311} y={377.7 + i * 8} size={4.5} anchor="start" color="#333">{g}</T>
        </g>
      ))}
      <T x={315} y={555} size={6.3} anchor="start" color="#222">Unweighted Unifrac Distance</T>
      <T x={579.7} y={564.5} size={7.2} color="#222">Relative Abundance in Phylum Level</T>
      {PHYLA.map((p, i) => (
        <g key={p}>
          <rect x={698.3} y={375.2 + i * 7.76} width={5} height={5} fill={PALETTE[i]} stroke="#222" strokeWidth={0.4} />
          <T x={705.5} y={377.7 + i * 7.76} size={5.2} anchor="start" color="#222">{p}</T>
        </g>
      ))}
      {/* H */}
      <T x={24} y={686} size={6.5} rot={-90} color="#333">Relative Abundance</T>
      <T x={152} y={770.7} size={6.5} color="#333">Group Name</T>
      {hLegend.map((p, i) => (
        <g key={p}>
          <rect x={259} y={639.7 + i * 5.5} width={4} height={4} fill={pal[i]} />
          <T x={265.5} y={641.7 + i * 5.5} size={4.2} anchor="start" color="#333">{p}</T>
        </g>
      ))}
      {/* I */}
      <T x={368} y={686} size={6.5} rot={-90} color="#333">Relative Abundance</T>
      <T x={498} y={772} size={6.5} color="#333">Group Name</T>
      {iLegend.map((p, i) => (
        <g key={p}>
          <rect x={605.5} y={639 + i * 5.63} width={4} height={4} fill={pal[i]} />
          <T x={612} y={641 + i * 5.63} size={4.2} anchor="start" color="#333">{p}</T>
        </g>
      ))}
      {/* J left */}
      <rect x={15} y={795.5} width={13.3} height={4.5} fill={J_ORANGE} stroke="#555" strokeWidth={0.4} />
      <T x={29.3} y={797.8} size={3.8} anchor="start" color="#333">N</T>
      <rect x={33.3} y={795.5} width={13.4} height={4.5} fill={J_BLUE} stroke="#555" strokeWidth={0.4} />
      <T x={47.7} y={797.8} size={3.8} anchor="start" color="#333">C</T>
      <T x={211} y={798.3} size={3.8} color="#333">95% confidence intervals</T>
      <T x={285} y={858} size={3.8} rot={90} color="#333">p_value</T>
      <T x={102.3} y={922.7} size={6.5} color="#222">Means in groups</T>
      <T x={210.7} y={922.7} size={6.5} color="#222">Difference between groups</T>
      {/* J bottom */}
      <rect x={20.7} y={947.8} width={15} height={4.5} fill={J_ORANGE} stroke="#555" strokeWidth={0.4} />
      <T x={37.2} y={950} size={3.8} anchor="start" color="#333">C</T>
      <rect x={42.7} y={947.8} width={14.6} height={4.5} fill={J_BLUE} stroke="#555" strokeWidth={0.4} />
      <T x={58.8} y={950} size={3.8} anchor="start" color="#333">CS</T>
      <T x={231} y={950.7} size={3.8} color="#333">95% confidence intervals</T>
      <T x={321.7} y={966.7} size={3.8} rot={90} color="#333">p_value</T>
      <T x={103.3} y={986.7} size={6.5} color="#222">Means in groups</T>
      <T x={231.7} y={986.7} size={6.5} color="#222">Difference between groups</T>
      {/* J right */}
      <rect x={361} y={797.8} width={13.3} height={4.5} fill={J_ORANGE} stroke="#555" strokeWidth={0.4} />
      <T x={375.5} y={800} size={3.8} anchor="start" color="#333">Ca</T>
      <rect x={380} y={797.8} width={11.7} height={4.5} fill={J_BLUE} stroke="#555" strokeWidth={0.4} />
      <T x={393} y={800} size={3.8} anchor="start" color="#333">CS</T>
      <T x={594.3} y={800.7} size={3.8} color="#333">95% confidence intervals</T>
      <T x={660.7} y={890} size={3.8} rot={90} color="#333">p_value</T>
      <T x={498.3} y={986} size={6.5} color="#222">Means in groups</T>
      <T x={594.3} y={986} size={6.5} color="#222">Difference between groups</T>
    </svg>
  );
}

/* ================= APP ================= */
export default function App() {
  const f2 = (v: number) => v.toFixed(2);
  const f1 = (v: number) => v.toFixed(1);
  const fi = (v: number) => String(v);
  return (
    <div style={{ position: 'relative', width: 757, height: 991, background: '#fff', overflow: 'hidden', fontFamily: SANS }}>
      <style>{'body{margin:0;}'}</style>
      <PanelA />
      <PanelB />
      <BoxPanel rect={{ x0: 25, y0: 179, x1: 198, y1: 348 }} mins={SHANNON_MIN} q1={SHANNON_Q1} med={SHANNON_MEDIAN}
        q3={SHANNON_Q3} maxs={SHANNON_MAX} domain={[3.54, 7.87]} ticks={[4, 5, 6, 7]} fmt={fi} sigY={SHANNON_SIG_Y} />
      <BoxPanel rect={{ x0: 263, y0: 179, x1: 431, y1: 348 }} mins={SIMPSON_MIN} q1={SIMPSON_Q1} med={SIMPSON_MEDIAN}
        q3={SIMPSON_Q3} maxs={SIMPSON_MAX} domain={[0.763, 1.0206]} ticks={[0.8, 0.85, 0.9, 0.95, 1.0]} fmt={f2} sigY={SIMPSON_SIG_Y} />
      <OrdPanel rect={{ x0: 517, y0: 183, x1: 703, y1: 351 }} xd={[-63.17, 59.74]} yd={[-115.1, 101.4]}
        xt={[-60, -30, 0, 30]} yt={[-100, -50, 0, 50, 100]} fx={fi} fy={fi}
        xs={[PCA_N_X, PCA_C_X, PCA_CA_X, PCA_CS_X]} ys={[PCA_N_Y, PCA_C_Y, PCA_CA_Y, PCA_CS_Y]}
        ex={PCA_ELL_X} ey={PCA_ELL_Y} ea={PCA_ELL_A} eb={PCA_ELL_B} eang={PCA_ELL_ANG} size={3.3} />
      <OrdPanel rect={{ x0: 30, y0: 386, x1: 250, y1: 569 }} xd={[-0.3071, 0.6391]} yd={[-0.8425, 0.6544]}
        xt={[-0.2, 0, 0.2, 0.4, 0.6]} yt={[-0.8, -0.4, 0, 0.4]} fx={f1} fy={f1}
        xs={[PCOA_N_X, PCOA_C_X, PCOA_CA_X, PCOA_CS_X]} ys={[PCOA_N_Y, PCOA_C_Y, PCOA_CA_Y, PCOA_CS_Y]}
        ex={PCOA_ELL_X} ey={PCOA_ELL_Y} ea={PCOA_ELL_A} eb={PCOA_ELL_B} eang={PCOA_ELL_ANG} size={3} />
      <PanelG />
      <StackPanel rect={{ x0: 50, y0: 618.3, x1: 254.6, y1: 755 }} taxa={H_TAXA} values={H_VALUES} barSize={25.6} />
      <StackPanel rect={{ x0: 395, y0: 618.3, x1: 603, y1: 756.7 }} taxa={I_TAXA} values={I_VALUES} barSize={26} />
      <JMeans rect={{ x0: 72.7, y0: 808.3, x1: 132.3, y1: 908.3 }} names={JL_NAMES} g1={JL_N} g2={JL_C}
        xmax={0.8} maxLabel="0.8" yW={72} gap={2} labelSize={4.2} />
      <JDiff rect={{ x0: 156.7, y0: 808.3, x1: 347.5, y1: 908.3 }} names={JL_NAMES} diff={JL_DIFF} lo={JL_LOW} hi={JL_HIGH}
        pv={JL_P} domain={[-3, 4.2]} ticks={[-3, -2, -1, 0, 1]} band={[-3, 1]} r={3.3} pX={1.09} />
      <HLine x0={156.7} x1={262.7} y={908.3} />
      <JMeans rect={{ x0: 61.7, y0: 958.3, x1: 134.3, y1: 976.7 }} names={JB_NAMES} g1={JB_C} g2={JB_CS}
        xmax={0.015} maxLabel="0.015" yW={60} gap={2} labelSize={4.2} />
      <JDiff rect={{ x0: 163.3, y0: 958.3, x1: 314.6, y1: 976.7 }} names={JB_NAMES} diff={JB_DIFF} lo={JB_LOW} hi={JB_HIGH}
        pv={JB_P} domain={[-4, 0.6]} ticks={[-4, -3, -2, -1, 0]} band={[-4, 0.1]} r={3} pX={0.2} />
      <HLine x0={163.3} x1={298.3} y={976.7} />
      <JMeans rect={{ x0: 472, y0: 812.8, x1: 524.3, y1: 970 }} names={JR_NAMES} g1={JR_CA} g2={JR_CS}
        xmax={0.08} maxLabel="0.08" yW={95} gap={1.2} labelSize={3.7} />
      <JDiff rect={{ x0: 546.7, y0: 812.8, x1: 720.1, y1: 970 }} names={JR_NAMES} diff={JR_DIFF} lo={JR_LOW} hi={JR_HIGH}
        pv={JR_P} domain={[-4, 5.2]} ticks={[-4, -3, -2, -1, 0, 1]} band={[-4, 1]} r={1.8} pX={1.06} />
      <HLine x0={546.7} x1={640.7} y={970} />
      <Overlay />
    </div>
  );
}
